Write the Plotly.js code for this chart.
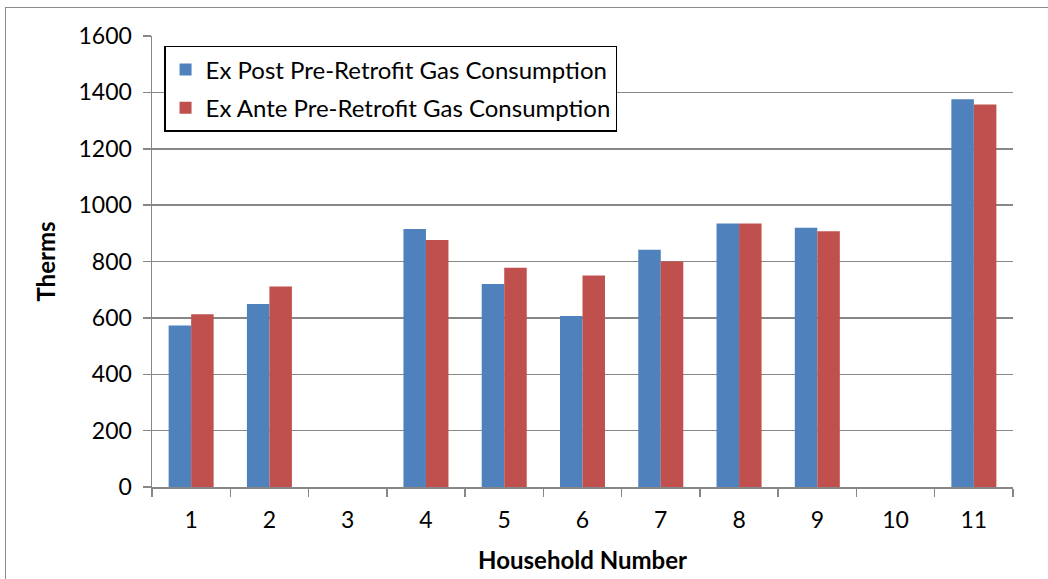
<!DOCTYPE html>
<html>
<head>
<meta charset="utf-8">
<script src="https://cdn.plot.ly/plotly-3.0.1.min.js"></script>
<style>
  html, body { margin: 0; padding: 0; background: #fff; overflow: hidden; }
  #frame { position: absolute; left: 5px; top: 7px; width: 1100px; height: 650px; border: 1.5px solid #8c8c8c; }
  #chart { position: absolute; left: 0; top: 0; width: 1048px; height: 579px; }
</style>
</head>
<body>
<div id="frame"></div>
<div id="chart"></div>
<script>
// household numbers (3 and 10 have no data)
let households = ["1", "2", "3", "4", "5", "6", "7", "8", "9", "10", "11"];
let exPost = [573, 649, null, 915, 720, 607, 842, 935, 920, null, 1376];
let exAnte = [613, 711, null, 876, 778, 750, 800, 935, 907, null, 1357];
let yTicks = [0, 200, 400, 600, 800, 1000, 1200, 1400, 1600];

let fontFamily = "Lato, 'Open Sans', sans-serif";
let gridColor = "#878787";

let postTrace = {
    type: "bar",
    x: households,
    y: exPost,
    name: "Ex Post Pre-Retrofit Gas Consumption",
    legendgroup: "a",
    marker: { color: "#4f81bd" }
};

let anteTrace = {
    type: "bar",
    x: households,
    y: exAnte,
    name: "Ex Ante Pre-Retrofit Gas Consumption",
    legendgroup: "b",
    marker: { color: "#c0504d" }
};

let layout = {
    width: 1048,
    height: 579,
    margin: { l: 152, r: 35, t: 36, b: 92 },
    paper_bgcolor: "rgba(0,0,0,0)",
    plot_bgcolor: "#fff",
    font: { family: fontFamily, size: 23, color: "#000" },
    barmode: "group",
    bargap: 0.425,
    bargroupgap: 0,
    showlegend: true,
    legend: {
        x: 0.014, y: 0.978, xanchor: "left", yanchor: "top",
        bordercolor: "#000", borderwidth: 1.5, bgcolor: "#fff",
        font: { family: fontFamily, size: 24 },
        traceorder: "grouped", tracegroupgap: 4
    },
    xaxis: {
        type: "category",
        showline: true, linecolor: gridColor, linewidth: 1.5,
        ticks: "outside", tickson: "boundaries", ticklen: 8, tickcolor: gridColor, tickwidth: 1.5,
        ticklabelstandoff: 12,
        showgrid: false,
        title: { text: "<b>Household Number</b>", font: { size: 24 }, standoff: 20 }
    },
    yaxis: {
        range: [0, 1600],
        tickvals: yTicks,
        showline: true, linecolor: gridColor, linewidth: 1.5,
        ticks: "outside", ticklen: 8, tickcolor: gridColor, tickwidth: 1.5,
        ticklabelstandoff: 6,
        showgrid: true, gridcolor: gridColor, gridwidth: 1.5,
        zeroline: false,
        title: { text: "<b>Therms</b>", font: { size: 24 }, standoff: 16 }
    }
};

Plotly.newPlot("chart", [postTrace, anteTrace], layout, { displayModeBar: false, staticPlot: true });
</script>
</body>
</html>
